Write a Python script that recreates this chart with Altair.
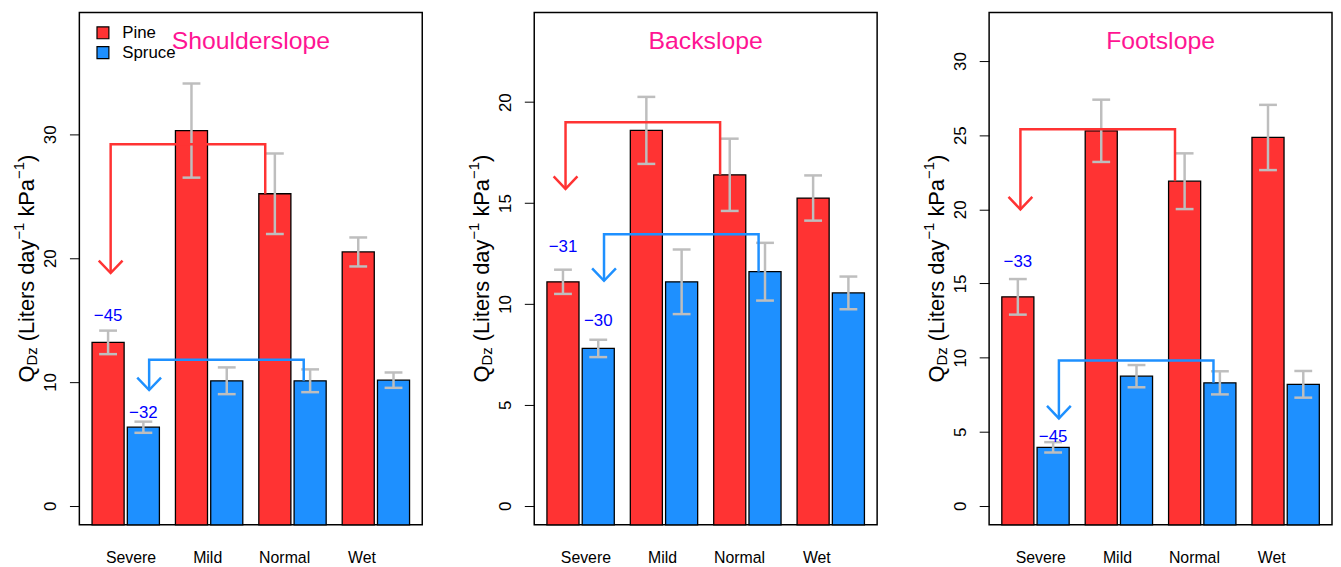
import altair as alt
import pandas as pd

# ---------------- data ----------------
categories = ["Severe", "Mild", "Normal", "Wet"]
species = ["Pine", "Spruce"]
slope_names = ["Shoulderslope", "Backslope", "Footslope"]

shoulder_pine = [13.2, 30.3, 25.2, 20.5]
shoulder_pine_se = [0.95, 3.8, 3.25, 1.17]
shoulder_spruce = [6.35, 10.1, 10.1, 10.15]
shoulder_spruce_se = [0.45, 1.08, 0.92, 0.62]

back_pine = [11.1, 18.6, 16.4, 15.25]
back_pine_se = [0.6, 1.66, 1.79, 1.12]
back_spruce = [7.8, 11.1, 11.6, 10.55]
back_spruce_se = [0.43, 1.6, 1.43, 0.81]

foot_pine = [14.1, 25.3, 21.9, 24.85]
foot_pine_se = [1.2, 2.1, 1.88, 2.2]
foot_spruce = [3.95, 8.75, 8.3, 8.2]
foot_spruce_se = [0.35, 0.75, 0.78, 0.9]

y_max = [38.3, 23.5, 32.0]
y_ticks = [[0, 10, 20, 30], [0, 5, 10, 15, 20], [0, 5, 10, 15, 20, 25, 30]]

pine_change = [-45, -31, -33]
spruce_change = [-32, -30, -45]
pine_label_y = [14.9, 12.6, 16.1]
spruce_label_y = [7.1, 8.9, 4.3]

pine_arrow_top = [29.2, 19.0, 25.4]
pine_arrow_tip = [18.8, 15.7, 20.0]
spruce_arrow_top = [11.8, 13.45, 9.8]
spruce_arrow_tip = [9.35, 11.15, 5.9]
pine_arrow_x = [1.08, 5.9]
spruce_arrow_x = [2.28, 7.1]

label_x = [1.7, 4.09, 6.49, 8.9]

# ---------------- style ----------------
FONT = "Liberation Sans"
RED = "#FF3333"
BLUE = "#1E90FF"
GRAY = "#BEBEBE"
PINK = "#FF1493"
W, H = 346, 517

# R barplot layout (beside=TRUE, space=c(0.1,0.5))
BAR_SPACE_IN, BAR_SPACE_GRP = 0.1, 0.5
n_bars_total_right = len(categories) * (2 + BAR_SPACE_IN + BAR_SPACE_GRP)
x_lo_raw, x_hi_raw = BAR_SPACE_GRP, n_bars_total_right
ext = 0.04 * (x_hi_raw - x_lo_raw)
x_domain = [x_lo_raw - ext, x_hi_raw + ext]

means = [[shoulder_pine, shoulder_spruce], [back_pine, back_spruce], [foot_pine, foot_spruce]]
ses = [[shoulder_pine_se, shoulder_spruce_se], [back_pine_se, back_spruce_se], [foot_pine_se, foot_spruce_se]]

# Helvetica widths for the axis-title pieces
CW = {" ": 278, "(": 333, ")": 333, "L": 556, "i": 222, "t": 278, "e": 556, "r": 333,
      "s": 500, "d": 556, "a": 556, "y": 500, "k": 500, "P": 667, "Q": 778, "D": 722,
      "z": 500, "1": 556, "\u2212": 584}


def tw(s, fs):
    return sum(CW.get(c, 556) for c in s) * fs / 1000.0


F_MAIN, F_SUB = 22, 15
BASE = -46
title_pieces = [("Q", F_MAIN, 0, ""), ("Dz", F_SUB, 3, ""), ("(Liters day", F_MAIN, 0, " "),
                ("\u22121", F_SUB, -10, ""), ("kPa", F_MAIN, 0, " "), ("\u22121", F_SUB, -10, ""),
                (")", F_MAIN, 0, "")]
total_len = sum(tw(lead + t, f) for t, f, _, lead in title_pieces)
rows = []
pos = H / 2 + total_len / 2
for t, f, shift, lead in title_pieces:
    pos -= tw(lead, F_MAIN)
    rows.append({"txt": t, "px": BASE + shift, "py": pos, "fs": f})
    pos -= tw(t, f)
ytitle_df = pd.DataFrame(rows)

label_expr = ("[" + ",".join("'%s'" % c for c in categories) + "][indexof(["
              + ",".join(str(v) for v in label_x) + "], datum.value)]")

legend = alt.Legend(title=None, orient="none", legendX=15.3, legendY=12, symbolType="square",
                    symbolSize=144, symbolStrokeColor="black", symbolStrokeWidth=1.2,
                    symbolOpacity=1, labelFontSize=17, labelFont=FONT, labelColor="black",
                    labelOffset=11, rowPadding=2, padding=0)


def panel(k):
    rows = []
    for i, c in enumerate(categories):
        for j, sp in enumerate(species):
            m = means[k][j][i]
            s = ses[k][j][i]
            left = BAR_SPACE_GRP + i * (2 + BAR_SPACE_IN + BAR_SPACE_GRP) + j * (1 + BAR_SPACE_IN)
            rows.append(dict(cat=c, species=sp, mean=m, se=s, left=left, right=left + 1,
                             center=left + 0.5, lo=m - s, hi=m + s))
    df = pd.DataFrame(rows)
    caps = pd.concat([df[["center"]].assign(yv=df["lo"]), df[["center"]].assign(yv=df["hi"])])

    M = y_max[k]
    xs = alt.Scale(domain=x_domain, nice=False, zero=False)
    ys = alt.Scale(domain=[-0.04 * M, 1.04 * M], nice=False, zero=False)
    xaxis = alt.Axis(values=label_x, labelExpr=label_expr, ticks=False, tickSize=0, domain=False,
                     grid=False, labelPadding=38, labelBaseline="alphabetic", labelFontSize=16,
                     labelColor="black", labelFont=FONT, title=None, labelFlush=False,
                     labelOverlap=False)
    yaxis = alt.Axis(values=y_ticks[k], tickSize=10, tickColor="black", tickWidth=1, domain=False,
                     grid=False, labelAngle=270, labelAlign="center", labelBaseline="bottom",
                     labelPadding=10, labelFontSize=17, labelFont=FONT, labelColor="black",
                     title=None, labelFlush=False, labelOverlap=False)

    def X(f):
        return alt.X(f, scale=xs, axis=xaxis)

    def Y(f):
        return alt.Y(f, scale=ys, axis=yaxis)

    bars = alt.Chart(df).mark_rect(stroke="black", strokeWidth=1.3).encode(
        x=X("left:Q"),
        x2="right:Q",
        y=Y("mean:Q"),
        y2=alt.value(H),
        color=alt.Color("species:N", scale=alt.Scale(domain=species, range=[RED, BLUE]),
                        legend=legend),
    )
    err = alt.Chart(df).mark_rule(color=GRAY, strokeWidth=2.5).encode(
        x=X("center:Q"), y=Y("lo:Q"), y2="hi:Q",
    )
    cap = alt.Chart(caps).mark_tick(orient="horizontal", size=18, thickness=2.5, color=GRAY,
                                    opacity=1).encode(x=X("center:Q"), y=Y("yv:Q"))

    layers = [bars, err, cap]
    specs = [
        (pine_arrow_x, pine_arrow_top[k], pine_arrow_tip[k], means[k][0][2], RED),
        (spruce_arrow_x, spruce_arrow_top[k], spruce_arrow_tip[k], means[k][1][2], BLUE),
    ]
    for (xl, xr), top, tip, end, col in specs:
        adf = pd.DataFrame({"x": [xl, xl, xr, xr], "y": [tip, top, top, end], "o": [0, 1, 2, 3]})
        layers.append(alt.Chart(adf).mark_line(color=col, strokeWidth=2.5, strokeCap="butt",
                                               strokeJoin="miter").encode(
            x=X("x:Q"), y=Y("y:Q"), order="o:Q",
        ))
        hdf = pd.DataFrame({"x": [xl], "y": [tip]})
        layers.append(alt.Chart(hdf).mark_point(shape="M -1 -1.05 L 0 0 L 1 -1.05", size=576,
                                                filled=False, strokeWidth=2.5, opacity=1,
                                                color=col, strokeJoin="miter").encode(
            x=X("x:Q"), y=Y("y:Q"),
        ))

    sev = df[df["cat"] == categories[0]]
    ann = pd.DataFrame({
        "x": list(sev["center"]),
        "y": [pine_label_y[k], spruce_label_y[k]],
        "t": ["\u2212%d" % abs(pine_change[k]), "\u2212%d" % abs(spruce_change[k])],
    })
    layers.append(alt.Chart(ann).mark_text(fontSize=17, font=FONT, color="#0000FF", align="center",
                                           baseline="alphabetic").encode(
        x=X("x:Q"), y=Y("y:Q"), text="t:N",
    ))
    layers.append(alt.Chart(pd.DataFrame({"t": [slope_names[k]]})).mark_text(
        fontSize=25, font=FONT, color=PINK, align="center", baseline="alphabetic").encode(
        x=alt.value(W / 2), y=alt.value(36.7), text="t:N"))
    layers.append(alt.Chart(ytitle_df).mark_text(angle=270, align="left", baseline="alphabetic",
                                                 font=FONT, color="black").encode(
        x=alt.X("px:Q", scale=None),
        y=alt.Y("py:Q", scale=None),
        size=alt.Size("fs:Q", scale=None),
        text="txt:N",
    ))
    return alt.layer(*layers).properties(width=W, height=H)


chart = alt.hconcat(panel(0), panel(1), panel(2), spacing=113, bounds="flush").properties(
    padding={"left": 3, "top": 1, "right": 0, "bottom": 0},
    background="white",
).configure_view(stroke="black", strokeWidth=1.5)

chart.save("out.html", embed_options={"renderer": "svg", "actions": False})
